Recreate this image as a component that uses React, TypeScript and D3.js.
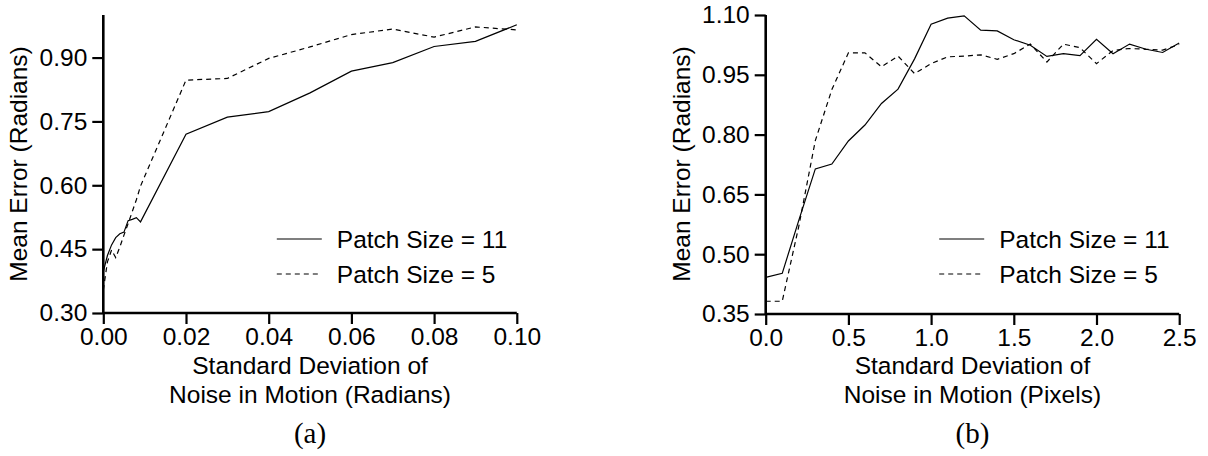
import React, { useEffect, useRef } from "react";
import * as d3 from "d3";

// panel (a): noise in radians
const xRad = [0, 0.001, 0.002, 0.003, 0.004, 0.005, 0.006, 0.007, 0.008, 0.009, 0.02, 0.03, 0.04, 0.05, 0.06, 0.07, 0.08, 0.09, 0.1];
const radPatch11 = [0.397, 0.435, 0.46, 0.477, 0.486, 0.49, 0.517, 0.52, 0.524, 0.514, 0.72, 0.76, 0.773, 0.817, 0.868, 0.888, 0.926, 0.938, 0.977];
const radPatch5 = [0.354, 0.42, 0.448, 0.43, 0.455, 0.483, 0.51, 0.538, 0.566, 0.598, 0.847, 0.851, 0.898, 0.925, 0.954, 0.967, 0.948, 0.972, 0.965];
const radXTicks = [0, 0.02, 0.04, 0.06, 0.08, 0.1];
const radYTicks = [0.3, 0.45, 0.6, 0.75, 0.9];

// panel (b): noise in pixels
const xPix = [0, 0.1, 0.2, 0.3, 0.4, 0.5, 0.6, 0.7, 0.8, 0.9, 1.0, 1.1, 1.2, 1.3, 1.4, 1.5, 1.6, 1.7, 1.8, 1.9, 2.0, 2.1, 2.2, 2.3, 2.4, 2.5];
const pixPatch11 = [0.442, 0.452, 0.585, 0.714, 0.726, 0.784, 0.824, 0.878, 0.914, 0.99, 1.077, 1.092, 1.098, 1.062, 1.06, 1.038, 1.024, 0.996, 1.003, 0.998, 1.039, 1.003, 1.027, 1.014, 1.006, 1.03];
const pixPatch5 = [0.382, 0.382, 0.57, 0.785, 0.913, 1.005, 1.005, 0.97, 0.997, 0.953, 0.978, 0.995, 0.997, 1.0, 0.989, 1.003, 1.027, 0.982, 1.027, 1.018, 0.978, 1.011, 1.016, 1.014, 1.012, 1.026];
const pixXTicks = [0, 0.5, 1.0, 1.5, 2.0, 2.5];
const pixYTicks = [0.35, 0.5, 0.65, 0.8, 0.95, 1.1];

const legendLabels = ["Patch Size = 11", "Patch Size = 5"];

const FONT = "'Liberation Sans', Arial, Helvetica, sans-serif";

function drawPanel(svg, opts) {
  const g = svg.append("g");
  const x = d3.scaleLinear().domain(opts.xDomain).range([opts.left, opts.left + 413.5]);
  const y = d3.scaleLinear().domain(opts.yDomain).range([opts.bottom, 15]);

  // axes
  const xAxis = g.append("g")
    .attr("transform", "translate(0," + opts.bottom + ")")
    .call(d3.axisBottom(x).tickValues(opts.xTicks).tickFormat(opts.xFmt).tickSize(11).tickPadding(4));
  const yAxis = g.append("g")
    .attr("transform", "translate(" + opts.left + ",0)")
    .call(d3.axisLeft(y).tickValues(opts.yTicks).tickFormat(d3.format(".2f")).tickSize(11).tickPadding(5));
  [xAxis, yAxis].forEach((a) => {
    a.select(".domain").attr("stroke-width", 2.6).attr("d", null);
    a.selectAll(".tick line").attr("stroke-width", 2.2);
    a.selectAll("text").attr("font-family", FONT).attr("font-size", 24.5).attr("fill", "#000");
  });
  // plain axis lines (no end caps)
  xAxis.select(".domain").attr("d", "M" + x.range()[0] + ",0H" + x.range()[1]);
  yAxis.select(".domain").attr("d", "M0," + y.range()[0] + "V" + y.range()[1]);
  xAxis.selectAll(".tick text").attr("dy", "0.71em");

  // lines
  const line = d3.line()
    .x((d) => x(d[0]))
    .y((d) => y(d[1]));
  const series = [opts.s11, opts.s5];
  series.forEach((vals, i) => {
    g.append("path")
      .datum(opts.xs.map((xv, j) => [xv, vals[j]]))
      .attr("d", line)
      .attr("fill", "none")
      .attr("stroke", "#000")
      .attr("stroke-width", 1.2)
      .attr("stroke-dasharray", i === 1 ? "5,4" : null);
  });

  // legend
  const lg = g.selectAll(".legend")
    .data(legendLabels)
    .enter()
    .append("g")
    .attr("class", "legend")
    .attr("transform", (d, i) => "translate(" + (opts.left + 173.5) + "," + (239 + i * 35) + ")");
  lg.append("line")
    .attr("x1", 0).attr("x2", 45)
    .attr("stroke", "#000")
    .attr("stroke-width", 1.2)
    .attr("stroke-dasharray", (d, i) => (i === 1 ? "5,4" : null));
  lg.append("text")
    .text((d) => d)
    .attr("x", 60)
    .attr("y", 9)
    .attr("font-family", FONT)
    .attr("font-size", 24.5);

  // titles
  const cx = opts.left + 413.5 / 2;
  g.append("text")
    .attr("x", cx).attr("y", 374)
    .attr("text-anchor", "middle")
    .attr("font-family", FONT).attr("font-size", 24.5)
    .text("Standard Deviation of");
  g.append("text")
    .attr("x", cx).attr("y", 403)
    .attr("text-anchor", "middle")
    .attr("font-family", FONT).attr("font-size", 24.5)
    .text(opts.xTitle);
  g.append("text")
    .attr("transform", "translate(" + (opts.left - 76) + "," + 164 + ") rotate(-90)")
    .attr("text-anchor", "middle")
    .attr("font-family", FONT).attr("font-size", 24.5)
    .text("Mean Error (Radians)");
  g.append("text")
    .attr("x", cx).attr("y", 443)
    .attr("text-anchor", "middle")
    .attr("font-family", "'Liberation Serif', 'DejaVu Serif', serif").attr("font-size", 29)
    .text(opts.label);
}

export default function App() {
  const ref = useRef(null);

  useEffect(() => {
    document.body.style.margin = "0";
    const svg = d3.select(ref.current);
    svg.selectAll("*").remove();
    drawPanel(svg, {
      left: 103.3, bottom: 313,
      xDomain: [0, 0.1], yDomain: [0.3, 1.0],
      xTicks: radXTicks, yTicks: radYTicks, xFmt: d3.format(".2f"),
      xs: xRad, s11: radPatch11, s5: radPatch5,
      xTitle: "Noise in Motion (Radians)", label: "(a)",
    });
    drawPanel(svg, {
      left: 765.7, bottom: 314,
      xDomain: [0, 2.5], yDomain: [0.35, 1.1],
      xTicks: pixXTicks, yTicks: pixYTicks, xFmt: d3.format(".1f"),
      xs: xPix, s11: pixPatch11, s5: pixPatch5,
      xTitle: "Noise in Motion (Pixels)", label: "(b)",
    });
  }, []);

  return <svg ref={ref} width={1208} height={456} style={{ display: "block", background: "#fff" }} />;
}
